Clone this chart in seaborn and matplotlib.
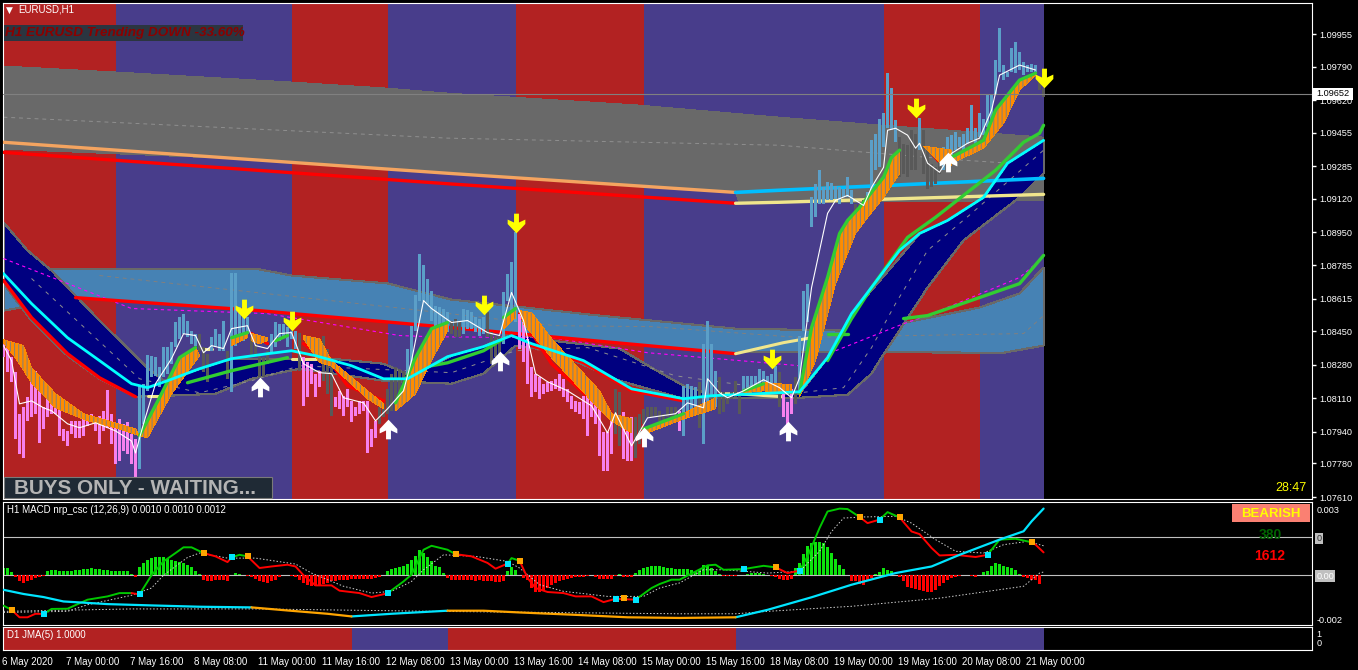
import numpy as np
import matplotlib
matplotlib.use("Agg")
import matplotlib.pyplot as plt
from matplotlib.patches import Rectangle
from matplotlib.path import Path
from matplotlib.transforms import ScaledTranslation
import seaborn as sns

# --- data: bar numbers (1 bar = 1 hour) and prices in points (1.00000 + n * 0.00001) ---
zone_edges = [-0.25, 28, 72, 96, 128, 160, 220, 244, 260]
zone_colors = ["#B22222", "#483D8B", "#B22222", "#483D8B", "#B22222", "#483D8B", "#B22222", "#483D8B"]

price_ticks = [9955, 9790, 9620, 9455, 9285, 9120, 8950, 8785, 8615, 8450, 8280, 8110, 7940, 7780, 7610]
last_price = 9652

bar_kind = ("p" * 34 + "b" * 15 + "g" * 3 + "b" * 4 + "g" + "b" * 5 + "g" * 5 + "b" * 7 + "g" + "p" * 5 + "g" * 3
            + "p" * 11 + "g" * 7 + "b" * 11 + "g" * 3 + "b" * 6 + "g" * 4 + "b" * 4 + "p" * 24 + "g" * 2 + "p" * 3
            + "g" * 11 + "p" + "b" * 4 + "g" + "b" * 4 + "g" * 6 + "b" * 9 + "g" + "p" * 3 + "g" + "b" * 14 + "g" * 3
            + "b" * 8 + "g" * 5 + "b" + "g" * 5 + "b" * 24 + "g" * 2)
bar_top = [8402, 8368, 8318, 8241, 8030, 8064, 8115, 8191, 8250, 8148, 8064, 8123, 8115, 8106, 8072, 7954, 7945, 7996,
           7996, 7996, 8021, 8013, 8030, 7988, 8021, 8047, 8152, 8030, 7971, 8005, 7979, 7988, 7928, 7903, 8174, 8182,
           8331, 8326, 8318, 8267, 8368, 8368, 8394, 8495, 8521, 8537, 8504, 8453, 8436, 8436, 8368, 8334, 8419, 8461,
           8436, 8504, 8351, 8744, 8744, 8571, 8537, 8521, 8419, 8385, 8334, 8318, 8351, 8436, 8495, 8487, 8487, 8470,
           8453, 8453, 8441, 8318, 8292, 8284, 8233, 8250, 8428, 8360, 8301, 8115, 8148, 8123, 8157, 8098, 8064, 8098,
           8098, 8098, 7954, 7996, 8064, 8081, 8157, 8233, 8267, 8258, 8250, 8360, 8478, 8631, 8842, 8783, 8715, 8656,
           8580, 8571, 8563, 8546, 8504, 8512, 8504, 8563, 8555, 8546, 8521, 8512, 8521, 8546, 8445, 8428, 8428, 8648,
           8741, 8800, 8952, 8538, 8529, 8411, 8267, 8233, 8216, 8182, 8191, 8199, 8208, 8233, 8208, 8157, 8123, 8098,
           8089, 8123, 8123, 8191, 8081, 8081, 7937, 7937, 8013, 8157, 8140, 8039, 8005, 8013, 8013, 8030, 8056, 8064,
           8064, 8064, 8047, 8030, 8064, 8064, 8064, 8047, 8174, 8182, 8174, 8165, 8191, 8385, 8504, 8385, 8250, 8216,
           8140, 8132, 8140, 8199, 8132, 8225, 8225, 8225, 8225, 8259, 8250, 8225, 8233, 8275, 8242, 8157, 8089, 8157,
           8216, 8428, 8656, 8690, 9130, 9197, 9265, 9180, 9206, 9201, 9184, 9180, 9172, 9231, 9164, 9096, 9096, 9113,
           9155, 9417, 9451, 9527, 9553, 9756, 9680, 9522, 9434, 9400, 9392, 9468, 9451, 9532, 9468, 9383, 9299, 9282,
           9316, 9383, 9434, 9443, 9460, 9434, 9451, 9477, 9595, 9477, 9553, 9527, 9646, 9654, 9823, 9984, 9798, 9764,
           9883, 9916, 9866, 9815, 9798, 9803, 9798, 9722, 9680]
bar_bot = [8318, 8241, 8191, 7903, 7827, 7810, 7996, 8013, 8030, 7886, 7954, 8013, 8030, 8030, 7920, 7895, 7869, 7928,
           7911, 7911, 7920, 7971, 7988, 7945, 7878, 7945, 7962, 7878, 7776, 7793, 7844, 7827, 7776, 7708, 7751, 7979,
           8148, 8216, 8224, 8165, 8216, 8233, 8284, 8368, 8411, 8436, 8419, 8385, 8377, 8351, 8241, 8191, 8351, 8368,
           8351, 8351, 8208, 8140, 8377, 8436, 8402, 8436, 8318, 8318, 8216, 8216, 8284, 8334, 8368, 8402, 8419, 8368,
           8411, 8360, 8250, 8072, 8115, 8182, 8115, 8165, 8199, 8131, 8021, 8064, 8055, 8021, 8064, 7988, 8021, 8030,
           8047, 7835, 7861, 7911, 7979, 8013, 8030, 8047, 8047, 8064, 8106, 8148, 8250, 8453, 8605, 8605, 8588, 8504,
           8453, 8436, 8419, 8444, 8436, 8419, 8419, 8436, 8462, 8462, 8445, 8428, 8436, 8419, 8284, 8318, 8301, 8385,
           8605, 8555, 8495, 8360, 8292, 8182, 8115, 8140, 8106, 8132, 8140, 8149, 8157, 8149, 8115, 8089, 8056, 8039,
           8030, 8005, 7920, 8013, 7979, 7819, 7743, 7743, 7827, 7929, 7869, 7802, 7793, 7793, 7810, 7878, 7979, 8013,
           8013, 8022, 7996, 7988, 8013, 8013, 7996, 7946, 7920, 8030, 8056, 8064, 7962, 7878, 8064, 8115, 8064, 8030,
           8039, 8081, 8106, 8115, 8030, 8132, 8140, 8149, 8149, 8174, 8174, 8174, 8165, 8157, 8064, 8013, 7962, 8030,
           8081, 8140, 8453, 8495, 8977, 9028, 9096, 9096, 9113, 9113, 9121, 9096, 9130, 9130, 9096, 9045, 9028, 9045,
           9079, 9164, 9265, 9282, 9383, 9477, 9468, 9409, 9231, 9248, 9231, 9265, 9265, 9367, 9248, 9172, 9180, 9197,
           9248, 9265, 9316, 9333, 9367, 9383, 9367, 9400, 9417, 9400, 9434, 9443, 9485, 9519, 9646, 9764, 9722, 9739,
           9764, 9756, 9773, 9747, 9764, 9764, 9764, 9671, 9637]

gray_top_x = [0, 28, 72, 96, 111, 159, 194, 220, 260]
gray_top_y = [9793, 9763, 9712, 9681, 9656, 9595, 9534, 9493, 9433]
gray_low_x = [0, 60, 111, 183, 184, 260]
gray_low_y = [9372, 9322, 9250, 9153, 9098, 9113]
gray_dash_x = [0, 111, 194, 240, 260]
gray_dash_y = [9534, 9428, 9392, 9316, 9290]
sand_x = [0, 111, 183]
sand_y = [9407, 9250, 9153]
red_top_x = [0, 111, 183]
red_top_y = [9356, 9197, 9098]
sky_x = [183, 194, 260]
sky_y = [9153, 9164, 9224]
cream_top_x = [183, 194, 260]
cream_top_y = [9098, 9103, 9143]

blue_top_x = [0, 64, 72, 96, 112, 149, 183, 210, 224, 244, 254, 260]
blue_top_y = [8768, 8763, 8732, 8692, 8610, 8529, 8463, 8453, 8488, 8570, 8641, 8773]
blue_low_x = [0, 18, 64, 112, 183, 184, 250, 260]
blue_low_y = [8554, 8620, 8554, 8468, 8336, 8346, 8341, 8377]
blue_dash_x = [24, 100, 138, 162, 199, 255, 260]
blue_dash_y = [8732, 8565, 8478, 8473, 8418, 8438, 8529]
magenta_a_x = [0, 32, 66, 99, 107, 137, 161, 199]
magenta_a_y = [8818, 8565, 8539, 8428, 8422, 8417, 8341, 8275]
magenta_b_x = [208, 225, 231, 254, 259]
magenta_b_y = [8351, 8488, 8529, 8722, 8808]

navy_top_x = [0, 6, 12, 24, 36, 40, 57, 82, 95, 102, 112, 120, 127, 137, 154, 162, 170, 177, 199, 206, 212, 224, 229,
              236, 245, 251, 260]
navy_top_y = [9001, 8859, 8757, 8504, 8265, 8199, 8311, 8311, 8285, 8224, 8326, 8372, 8443, 8402, 8362, 8265, 8174,
              8128, 8133, 8316, 8539, 8823, 8945, 9011, 9128, 9301, 9417]
navy_low_x = [0, 7, 16, 24, 33, 41, 53, 62, 74, 95, 112, 120, 128, 137, 154, 170, 177, 199, 211, 217, 219, 231, 240,
              254, 260]
navy_low_y = [8691, 8504, 8326, 8209, 8118, 8123, 8133, 8209, 8260, 8199, 8184, 8235, 8377, 8351, 8199, 8108, 8113,
              8113, 8128, 8235, 8301, 8671, 8910, 9128, 9250]
navy_dash_x = [7, 34, 49, 62, 74, 112, 128, 146, 168, 199, 210, 217, 223, 231, 242, 260]
navy_dash_y = [8717, 8209, 8138, 8199, 8275, 8240, 8351, 8367, 8224, 8138, 8164, 8367, 8590, 8859, 9047, 9367]

cyan_x = [0, 7, 16, 24, 32, 36, 41, 49, 57, 66, 72, 78, 87, 95, 101, 111, 120, 127, 132, 145, 157, 170, 177, 199, 206,
          212, 224, 229, 236, 245, 251, 260]
cyan_y = [8742, 8590, 8417, 8301, 8184, 8164, 8199, 8260, 8311, 8336, 8351, 8326, 8275, 8209, 8209, 8321, 8372, 8428,
          8387, 8301, 8158, 8108, 8123, 8143, 8316, 8539, 8859, 8945, 9011, 9128, 9301, 9417]
red_left_x = [0, 7, 16, 24, 33]
red_left_y = [8707, 8519, 8336, 8214, 8118]
red_low_x = [18, 64, 112, 183]
red_low_y = [8620, 8554, 8468, 8336]
red_f_x = [75, 82, 86, 95]
red_f_y = [8387, 8285, 8174, 8097]
red_h_x = [129, 137, 148, 157]
red_h_y = [8539, 8285, 8082, 7930]
red_d_x = [62, 66]
red_d_y = [8438, 8387]
red_l_x = [231, 234]
red_l_y = [9377, 9306]
red_under_x = [132, 145, 157, 170]
red_under_y = [8377, 8291, 8148, 8097]

cream_a_x = [36, 40]
cream_a_y = [8123, 8123]
cream_b_x = [50, 52]
cream_b_y = [8362, 8362]
cream_c_x = [72, 78]
cream_c_y = [8311, 8311]
cream_d_x = [179, 183, 195]
cream_d_y = [8133, 8133, 8118]
cream_e_x = [183, 195, 202]
cream_e_y = [8336, 8392, 8417]

# orange ribbons: upper and lower edge
a_top_x = [0, 5, 7, 13, 20, 33]
a_top_y = [8407, 8377, 8265, 8133, 8032, 7955]
a_low_x = [0, 3, 7, 13, 21, 28, 34]
a_low_y = [8392, 8316, 8189, 8062, 7996, 7961, 7920]
b_top_x = [34, 39, 44, 48]
b_top_y = [7920, 8113, 8316, 8367]
b_low_x = [36, 42, 49]
b_low_y = [7910, 8133, 8326]
c_top_x = [57, 61]
c_top_y = [8417, 8443]
c_low_x = [57, 61]
c_low_y = [8377, 8417]
d_top_x = [62, 66]
d_top_y = [8438, 8417]
d_low_x = [62, 64, 66]
d_low_y = [8402, 8387, 8402]
f_top_x = [75, 79, 82, 91, 95]
f_top_y = [8428, 8412, 8301, 8148, 8082]
f_low_x = [75, 79, 82, 91, 95]
f_low_y = [8412, 8291, 8275, 8108, 8057]
g_top_x = [98, 103, 107, 111]
g_top_y = [8087, 8316, 8463, 8494]
g_low_x = [98, 103, 106, 111]
g_low_y = [8047, 8133, 8265, 8453]
g2_top_x = [125, 128]
g2_top_y = [8519, 8565]
g2_low_x = [125, 128]
g2_low_y = [8463, 8519]
h_top_x = [129, 132, 137, 149, 152, 157]
h_top_y = [8554, 8544, 8412, 8148, 8032, 8006]
h_low_x = [130, 137, 147, 152, 157]
h_low_y = [8488, 8316, 8097, 7996, 7935]
i_top_x = [160, 170, 178]
i_top_y = [7955, 8032, 8113]
i_low_x = [161, 170, 178]
i_low_y = [7935, 8006, 8057]
j_top_x = [185, 190, 197]
j_top_y = [8148, 8189, 8179]
j_low_x = [185, 190, 197]
j_low_y = [8138, 8148, 8133]
k_top_x = [199, 202, 206, 209, 211, 214, 220, 222, 224]
k_top_y = [8138, 8468, 8722, 8945, 9011, 9077, 9230, 9331, 9367]
k_low_x = [199, 203, 208, 213, 216, 220, 224]
k_low_y = [8118, 8301, 8691, 8945, 9027, 9128, 9250]
l_top_x = [230, 237]
l_top_y = [9387, 9367]
l_low_x = [231, 234, 237]
l_low_y = [9367, 9306, 9290]
m_top_x = [237, 245, 248, 254, 258]
m_top_y = [9331, 9417, 9570, 9722, 9757]
m_low_x = [237, 245, 250, 254, 258]
m_low_y = [9301, 9377, 9504, 9671, 9747]

green_low_x = [46, 57, 71]
green_low_y = [8189, 8250, 8316]
green_mid_x = [107, 111, 120, 125]
green_mid_y = [8275, 8290, 8351, 8412]
green_e_x = [68, 71]
green_e_y = [8402, 8428]
green_i_x = [160, 170]
green_i_y = [7955, 8032]
green_j_x = [185, 190]
green_j_y = [8148, 8184]
green_big_x = [206, 212, 217, 226, 233, 240, 248, 255, 259, 260]
green_big_y = [8301, 8514, 8671, 8925, 9027, 9138, 9265, 9407, 9453, 9493]
green_third_x = [225, 231, 254, 260]
green_third_y = [8514, 8529, 8691, 8834]
green_short_x = [206, 211]
green_short_y = [8438, 8438]

white_x = [0, 2, 4, 7, 10, 12, 16, 19, 23, 28, 32, 33, 35, 38, 42, 45, 48, 50, 52, 55, 57, 61, 63, 66, 69, 72, 75, 79,
           82, 85, 90, 93, 96, 100, 102, 105, 107, 112, 116, 121, 124, 127, 130, 133, 136, 141, 147, 151, 153, 157, 161,
           168, 171, 175, 176, 179, 181, 185, 190, 194, 197, 199, 202, 206, 208, 211, 215, 217, 220, 221, 223, 226, 228,
           229, 231, 234, 237, 241, 244, 247, 249, 254, 258]
white_y = [8377, 8301, 8082, 8097, 8062, 8047, 7981, 7961, 7986, 7945, 7894, 7833, 7981, 8184, 8311, 8437, 8428, 8341,
           8377, 8362, 8463, 8478, 8377, 8362, 8438, 8443, 8285, 8240, 8235, 8113, 8087, 7996, 8057, 8148, 8301, 8605,
           8565, 8494, 8504, 8443, 8428, 8646, 8504, 8235, 8194, 8148, 8072, 7935, 8037, 7869, 8011, 8032, 8087, 8062,
           8209, 8138, 8113, 8148, 8204, 8164, 8113, 8214, 8671, 9047, 9113, 9138, 9087, 9179, 9280, 9468, 9478, 9443,
           9377, 9402, 9301, 9255, 9351, 9402, 9428, 9570, 9747, 9798, 9773]

yellow_x = [60, 72, 120, 128, 192, 228, 260]
yellow_y = [8562, 8504, 8585, 8996, 8311, 9580, 9735]
up_x = [64, 96, 124, 160, 196, 236]
up_y = [8166, 7953, 8301, 7912, 7943, 9306]

# MACD panel, in 0.00001 units
hist = [33, 33, 15, -10, -27, -35, -24, -20, -12, -8, -3, 21, 26, 24, 18, 18, 18, 21, 26, 23, 27, 30, 33, 30, 27, 24, 23,
        21, 21, 20, 20, 20, 6, -6, 36, 55, 71, 77, 82, 83, 82, 74, 68, 64, 61, 56, 48, 36, 18, 5, -21, -24, -24, -23,
        -23, -20, -24, 0, 12, 6, 3, -5, -8, -17, -24, -32, -33, -27, -20, -9, 0, 1, -3, -8, -20, -36, -42, -47, -50, -45,
        -39, -33, -27, -24, -21, -21, -20, -18, -17, -17, -18, -18, -17, -12, -6, 0, 18, 29, 35, 39, 44, 53, 71, 86, 117,
        102, 82, 64, 41, 36, 11, -12, -20, -23, -23, -21, -23, -23, -24, -23, -24, -27, -27, -30, -30, -27, 18, 36, 26,
        3, -12, -20, -59, -77, -77, -70, -59, -45, -35, -27, -21, -17, -12, -9, -9, -6, -3, 1, -6, -15, -17, -17, -15, -2,
        6, -6, -6, -6, 11, 26, 33, 38, 42, 44, 41, 38, 35, 32, 29, 29, 29, 27, 24, 15, 30, 45, 44, 33, 18, 6, -3, -5, -5,
        -5, 0, 3, 5, 9, 12, 9, 6, 3, -5, -9, -17, -20, -20, -17, 33, 56, 97, 132, 147, 152, 152, 147, 127, 102, 76, 48,
        30, 0, -24, -27, -39, -42, -27, -12, 6, 15, 33, 26, 18, 0, -9, -27, -55, -59, -61, -68, -73, -76, -76, -68, -50,
        -35, -20, -12, -6, -5, 0, 0, -3, -6, 0, 15, 21, 41, 55, 52, 42, 39, 33, 26, 6, -9, -12, -20, -20, -39]

macd_green_a_x = [0, 2]
macd_green_a_y = [-138, -157]
macd_red_a_x = [2, 4, 6, 8, 10]
macd_red_a_y = [-157, -191, -191, -175, -176]
macd_green_b_x = [10, 12, 16, 21, 26, 29, 32]
macd_green_b_y = [-176, -153, -152, -111, -96, -81, -81]
macd_red_b_x = [32, 34]
macd_red_b_y = [-81, -87]
macd_green_c_x = [34, 37, 40, 43, 45, 47, 50]
macd_green_c_y = [-87, 0, 63, 101, 127, 127, 101]
macd_red_c_x = [50, 53, 56, 57]
macd_red_c_y = [101, 86, 60, 81]
macd_green_d_x = [57, 59, 61]
macd_green_d_y = [81, 93, 86]
macd_red_d_x = [61, 64, 67, 71, 73, 75, 78, 82, 84, 89, 92, 96]
macd_red_d_y = [86, 33, 40, 48, 40, 0, -46, -46, -70, -81, -99, -82]
macd_green_e_x = [96, 100, 102, 105, 107, 111, 113]
macd_green_e_y = [-82, -28, 3, 116, 134, 116, 96]
macd_red_e_x = [113, 117, 121, 123, 126]
macd_red_e_y = [96, 86, 56, 30, 53]
macd_green_f_x = [126, 127, 129]
macd_green_f_y = [53, 78, 66]
macd_red_f_x = [129, 131, 133, 136, 140, 143, 147, 150, 153, 158]
macd_red_f_y = [66, -12, -58, -76, -81, -96, -96, -122, -107, -111]
macd_green_g_x = [158, 162, 164, 167, 169, 176, 178, 180, 185, 190, 193]
macd_green_g_y = [-111, -58, -40, -20, -20, 45, 48, 25, 28, 43, 36]
macd_red_g_x = [193, 196, 199]
macd_red_g_y = [36, 10, 21]
macd_green_h_x = [199, 201, 204, 206, 209, 211, 214]
macd_green_h_y = [21, 86, 215, 290, 303, 301, 265]
macd_red_h_x = [214, 216, 219]
macd_red_h_y = [265, 237, 253]
macd_green_i_x = [219, 221, 224]
macd_green_i_y = [253, 287, 263]
macd_red_i_x = [224, 227, 229, 232, 234, 238, 243, 246]
macd_red_i_y = [263, 199, 187, 124, 90, 93, 83, 93]
macd_green_j_x = [246, 249, 253, 257]
macd_green_j_y = [93, 162, 166, 150]
macd_red_j_x = [257, 258, 260]
macd_red_j_y = [150, 139, 104]

turn_up_x = [10, 34, 57, 96, 126, 153, 158, 185, 199, 219, 246]
turn_up_y = [-176, -87, 81, -82, 53, -107, -111, 28, 21, 253, 93]
turn_dn_x = [2, 50, 61, 113, 129, 155, 193, 214, 224, 257]
turn_dn_y = [-157, 101, 86, 96, 66, -104, 36, 265, 263, 150]

signal_x = [0, 16, 21, 32, 37, 40, 46, 49, 56, 63, 73, 77, 85, 92, 97, 102, 105, 110, 118, 126, 129, 134, 140, 151, 160,
            164, 169, 175, 180, 191, 199, 204, 207, 210, 215, 223, 227, 233, 238, 245, 250, 256, 260]
signal_y = [-169, -164, -134, -91, -58, 0, 81, 101, 78, 78, 51, 10, -50, -81, -73, -28, 25, 93, 86, 63, 33, -43, -73,
            -96, -96, -58, -35, 25, 25, 10, 18, 109, 199, 260, 265, 268, 237, 162, 109, 101, 139, 154, 134]
slow_cyan_a_x = [0, 5, 10, 15, 26, 37, 49, 62]
slow_cyan_a_y = [-66, -85, -99, -119, -131, -137, -143, -146]
slow_orange_a_x = [62, 71, 81, 87]
slow_orange_a_y = [-146, -160, -175, -187]
slow_cyan_b_x = [87, 97, 111]
slow_cyan_b_y = [-187, -175, -161]
slow_orange_b_x = [111, 120, 129, 142, 156, 169, 183]
slow_orange_b_y = [-161, -161, -169, -179, -191, -194, -191]
slow_cyan_c_x = [183, 191, 202, 212, 223, 232, 239, 249, 255, 257, 260]
slow_cyan_c_y = [-191, -157, -100, -43, 10, 40, 93, 162, 200, 245, 303]
slow_sig_x = [0, 32, 64, 108, 169, 183, 191, 212, 234, 255, 259, 260]
slow_sig_y = [-164, -153, -153, -164, -175, -175, -164, -141, -104, -50, 10, 15]

jma_edges = [-0.25, 87, 111, 183, 260]
jma_colors = ["#B22222", "#483D8B", "#B22222", "#483D8B"]

time_ticks = [0, 16, 32, 48, 64, 80, 96, 112, 128, 144, 160, 176, 192, 208, 224, 240, 256]
time_labels = ["6 May 2020", "7 May 00:00", "7 May 16:00", "8 May 08:00", "11 May 00:00", "11 May 16:00", "12 May 08:00",
               "13 May 00:00", "13 May 16:00", "14 May 08:00", "15 May 00:00", "15 May 16:00", "18 May 08:00",
               "19 May 00:00", "19 May 16:00", "20 May 08:00", "21 May 00:00"]

# --- style ---
sns.set_theme(style="dark", rc={"figure.facecolor": "black", "axes.facecolor": "black", "hatch.linewidth": 0.7,
                                "axes.edgecolor": "white", "axes.linewidth": 1.0, "patch.antialiased": False})
plt.rcParams["font.family"] = ["Liberation Sans", "DejaVu Sans"]

W, H = 1358, 670
fig = plt.figure(figsize=(W / 100, H / 100), dpi=100)


def panel(top, bottom):
    left, right = 2.5, 1312
    return fig.add_axes([left / W, 1 - bottom / H, (right - left) / W, (bottom - top) / H])


def fx(x):
    return x / W


def fy(y):
    return 1 - y / H


def price(vals):
    return 1 + np.array(vals) / 1e5


def line(ax, xs, ys, color, lw=1.0, ls="-", z=6, conv=price):
    sns.lineplot(x=xs, y=conv(ys), color=color, linewidth=lw, linestyle=ls, ax=ax, estimator=None, sort=False,
                 legend=False, zorder=z)


def band(ax, xt, yt, xb, yb, color, edge="#696969", lw=0.8, z=3, hatch=None):
    xs = list(xt) + list(xb)[::-1]
    ys = list(price(yt)) + list(price(yb))[::-1]
    ax.fill(xs, ys, facecolor=color, edgecolor=edge, linewidth=lw, zorder=z, hatch=hatch)


def ribbon(ax, xt, yt, xb, yb):
    band(ax, xt, yt, xb, yb, "#FF8C00", edge="#7F7F7F", lw=0, z=5, hatch="||||")


def box(x0, y0, x1, y1, color, edge="none", lw=0):
    fig.add_artist(Rectangle((fx(x0), fy(y1)), (x1 - x0) / W, (y1 - y0) / H, transform=fig.transFigure, facecolor=color,
                             edgecolor=edge, linewidth=lw, zorder=9, antialiased=True))


def label(x, y, s, color="white", size=7, **kw):
    kw.setdefault("va", "center")
    fig.text(fx(x), fy(y), s, color=color, fontsize=size, zorder=10, **kw)


ARROW_DOWN = Path([(-.25, 1), (.25, 1), (.25, .1), (.9, .4), (.9, -.05), (0, -1), (-.9, -.05), (-.9, .4), (-.25, .1),
                   (-.25, 1)], closed=True)
ARROW_UP = Path([(-.25, -1), (.25, -1), (.25, -.1), (.9, -.4), (.9, .05), (0, 1), (-.9, .05), (-.9, -.4), (-.25, -.1),
                 (-.25, -1)], closed=True)

# --- main chart ---
ax = panel(2.5, 499)
ax.set_xlim(-0.25, 327.1)
ax.set_ylim(1.07600, 1.10115)
for i, c in enumerate(zone_colors):
    ax.axvspan(zone_edges[i], zone_edges[i + 1], color=c, lw=0, zorder=1)

band(ax, gray_top_x, gray_top_y, gray_low_x, gray_low_y, "#696969", edge="none", lw=0, z=2)
band(ax, blue_top_x, blue_top_y, blue_low_x, blue_low_y, "#4682B4", z=2.2)
band(ax, navy_top_x, navy_top_y, navy_low_x, navy_low_y, "#000080", z=2.4)
line(ax, gray_dash_x, gray_dash_y, "#8F8F8F", 0.7, (0, (4, 4)), z=2.1)
line(ax, blue_dash_x, blue_dash_y, "#808080", 0.7, (0, (4, 4)), z=2.3)
line(ax, navy_dash_x, navy_dash_y, "#8F8F8F", 0.7, (0, (4, 6)), z=2.5)
line(ax, magenta_a_x, magenta_a_y, "#FF00FF", 0.8, (0, (3, 3)), z=2.6)
line(ax, magenta_b_x, magenta_b_y, "#FF00FF", 0.8, (0, (3, 3)), z=2.6)

for xs, ys in [(red_top_x, red_top_y), (red_left_x, red_left_y), (red_low_x, red_low_y), (red_f_x, red_f_y),
               (red_h_x, red_h_y), (red_d_x, red_d_y), (red_l_x, red_l_y), (red_under_x, red_under_y)]:
    line(ax, xs, ys, "#FF0000", 2.4, z=3)
line(ax, sand_x, sand_y, "#F4A460", 2.4, z=3.1)
line(ax, cream_top_x, cream_top_y, "#F0E68C", 2.4, z=3.1)
line(ax, sky_x, sky_y, "#00BFFF", 2.6, z=3.1)
for xs, ys in [(cream_a_x, cream_a_y), (cream_b_x, cream_b_y), (cream_c_x, cream_c_y), (cream_d_x, cream_d_y),
               (cream_e_x, cream_e_y)]:
    line(ax, xs, ys, "#F0E68C", 2.2, z=3.1)

colors = {"p": "#F680EE", "b": "#5B9FC8", "g": "#595959"}
bar_x = np.arange(len(bar_top))
ax.bar(bar_x, price(bar_top) - price(bar_bot), bottom=price(bar_bot), width=0.75,
       color=[colors[k] for k in bar_kind], linewidth=0, zorder=4)

for e in [(a_top_x, a_top_y, a_low_x, a_low_y), (b_top_x, b_top_y, b_low_x, b_low_y),
          (c_top_x, c_top_y, c_low_x, c_low_y), (d_top_x, d_top_y, d_low_x, d_low_y),
          (f_top_x, f_top_y, f_low_x, f_low_y), (g_top_x, g_top_y, g_low_x, g_low_y),
          (g2_top_x, g2_top_y, g2_low_x, g2_low_y), (h_top_x, h_top_y, h_low_x, h_low_y),
          (i_top_x, i_top_y, i_low_x, i_low_y), (j_top_x, j_top_y, j_low_x, j_low_y),
          (k_top_x, k_top_y, k_low_x, k_low_y), (l_top_x, l_top_y, l_low_x, l_low_y),
          (m_top_x, m_top_y, m_low_x, m_low_y)]:
    ribbon(ax, *e)

for xs, ys in [(b_top_x, b_top_y), (c_top_x, c_top_y), (g_top_x, g_top_y), (g2_top_x, g2_top_y), (k_top_x, k_top_y),
               (m_top_x, m_top_y), (green_low_x, green_low_y), (green_mid_x, green_mid_y), (green_e_x, green_e_y),
               (green_i_x, green_i_y), (green_j_x, green_j_y), (green_big_x, green_big_y),
               (green_third_x, green_third_y), (green_short_x, green_short_y)]:
    line(ax, xs, ys, "#32CD32", 2.4, z=5.5)
line(ax, cyan_x, cyan_y, "#00FFFF", 2.0, z=5.6)
line(ax, white_x, white_y, "white", 0.8, z=7)

sns.scatterplot(x=yellow_x, y=price(yellow_y), marker=ARROW_DOWN, s=200, color="#FFFF00", linewidth=0, ax=ax,
                legend=False, zorder=8)
sns.scatterplot(x=up_x, y=price(up_y), marker=ARROW_UP, s=200, color="white", linewidth=0, ax=ax, legend=False,
                zorder=8)

ax.axhline(price(last_price), color="#808080", lw=0.8, zorder=6.5)
ax.set_xlabel("")
ax.set_ylabel("")
ax.set_xticks([])
ax.yaxis.tick_right()
ax.set_yticks(price(price_ticks))
ax.set_yticklabels([f"{p:.5f}" for p in price(price_ticks)])
ax.tick_params(axis="y", colors="white", labelsize=6.6, length=3, width=1, pad=2.5)

label(18, 10, "EURUSD,H1")
label(9, 10, "\u25BC", size=6.5, ha="center", family=["DejaVu Sans"])
box(4, 25, 243, 41, "#2B3540")
label(5, 33, "H1 EURUSD Trending DOWN -33.60%", "#8B0000", 9.7, fontweight="bold", fontstyle="italic")
box(3.5, 477, 272, 498, "#1F2A35", "#7A7A7A", 0.8)
label(14, 488, "BUYS ONLY - WAITING...", "#B4B4B4", 14.9, fontweight="bold")
label(1307, 488, "28:47", "#FFFF00", 9, ha="right")
box(1313, 88, 1353, 100, "white")
label(1333, 94, f"{price(last_price):.5f}", "black", 6.6, ha="center")

# --- MACD panel ---
am = panel(502, 625)
am.set_xlim(-0.25, 327.1)
am.set_ylim(-0.00226, 0.00333)


def macd(vals):
    return np.array(vals) / 1e5


hist_colors = ["#0DE30D" if v >= 0 else "#FF0000" for v in hist]
am.bar(np.arange(len(hist)), macd(hist), width=0.75, color=hist_colors, linewidth=0, zorder=2)
am.axhline(0, color="#C0C0C0", lw=0.8, zorder=1)
am.axhline(0.00172, color="#C0C0C0", lw=0.8, zorder=1)

for xs, ys in [(macd_green_a_x, macd_green_a_y), (macd_green_b_x, macd_green_b_y), (macd_green_c_x, macd_green_c_y),
               (macd_green_d_x, macd_green_d_y), (macd_green_e_x, macd_green_e_y), (macd_green_f_x, macd_green_f_y),
               (macd_green_g_x, macd_green_g_y), (macd_green_h_x, macd_green_h_y), (macd_green_i_x, macd_green_i_y),
               (macd_green_j_x, macd_green_j_y)]:
    line(am, xs, ys, "#00C800", 1.4, z=4, conv=macd)
for xs, ys in [(macd_red_a_x, macd_red_a_y), (macd_red_b_x, macd_red_b_y), (macd_red_c_x, macd_red_c_y),
               (macd_red_d_x, macd_red_d_y), (macd_red_e_x, macd_red_e_y), (macd_red_f_x, macd_red_f_y),
               (macd_red_g_x, macd_red_g_y), (macd_red_h_x, macd_red_h_y), (macd_red_i_x, macd_red_i_y),
               (macd_red_j_x, macd_red_j_y)]:
    line(am, xs, ys, "#FF0000", 1.4, z=4, conv=macd)
line(am, signal_x, signal_y, "#D0D0D0", 0.7, (0, (1.5, 2)), z=3, conv=macd)
line(am, slow_sig_x, slow_sig_y, "#D0D0D0", 0.7, (0, (1.5, 2)), z=3, conv=macd)
for xs, ys in [(slow_cyan_a_x, slow_cyan_a_y), (slow_cyan_b_x, slow_cyan_b_y), (slow_cyan_c_x, slow_cyan_c_y)]:
    line(am, xs, ys, "#00E5FF", 1.6, z=5, conv=macd)
for xs, ys in [(slow_orange_a_x, slow_orange_a_y), (slow_orange_b_x, slow_orange_b_y)]:
    line(am, xs, ys, "#FFA500", 1.6, z=5, conv=macd)
sns.scatterplot(x=turn_up_x, y=macd(turn_up_y), marker="s", s=16, color="#00E5FF", linewidth=0, ax=am, legend=False,
                zorder=6)
sns.scatterplot(x=turn_dn_x, y=macd(turn_dn_y), marker="s", s=16, color="#FFA500", linewidth=0, ax=am, legend=False,
                zorder=6)
am.set_xlabel("")
am.set_ylabel("")
am.set_xticks([])
am.yaxis.tick_right()
am.set_yticks([0.003, 0.00172, 0, -0.002])
am.set_yticklabels(["0.003", "0", "0.00", "-0.002"])
am.tick_params(axis="y", colors="white", labelsize=6.6, length=0, pad=3)
for lab, boxed in zip(am.get_yticklabels(), [False, True, True, False]):
    if boxed:
        lab.set_bbox(dict(boxstyle="square,pad=0.15", fc="#C0C0C0", ec="none"))
        lab.set_color("#303030" if lab.get_text() == "0" else "white")

label(7, 510, "H1 MACD nrp_csc (12,26,9) 0.0010 0.0010 0.0012")
box(1232, 504, 1310, 522, "#FA8072")
label(1271, 514, "BEARISH", "#FFFF00", 9.5, fontweight="bold", ha="center")
label(1270, 535, "380", "#006400", 10, fontweight="bold", ha="center")
label(1270, 556, "1612", "#FF0000", 10, fontweight="bold", ha="center")

# --- JMA panel ---
aj = panel(627, 650)
aj.set_xlim(-0.25, 327.1)
aj.set_ylim(-0.15, 1.0)
for i, c in enumerate(jma_colors):
    aj.axvspan(jma_edges[i], jma_edges[i + 1], ymin=0.0, ymax=0.95, color=c, lw=0, zorder=1)
aj.set_yticks([0.68, 0.24])
aj.set_yticklabels(["1", "0"])
aj.yaxis.tick_right()
aj.tick_params(axis="y", colors="white", labelsize=6.6, length=0, pad=3)
aj.set_xticks(time_ticks)
aj.set_xticklabels(time_labels, ha="left")
aj.tick_params(axis="x", colors="white", labelsize=7, length=3, width=1, pad=2)
shift = ScaledTranslation(-2 / 100, 0, fig.dpi_scale_trans)
for lab in aj.get_xticklabels():
    lab.set_transform(lab.get_transform() + shift)
label(7, 635, "D1 JMA(5) 1.0000")

for a in [ax, am, aj]:
    for s in a.spines.values():
        s.set_color("white")
        s.set_linewidth(0.8)
        s.set_antialiased(True)

fig.savefig("out.png", dpi=100, facecolor="black")
plt.close()
